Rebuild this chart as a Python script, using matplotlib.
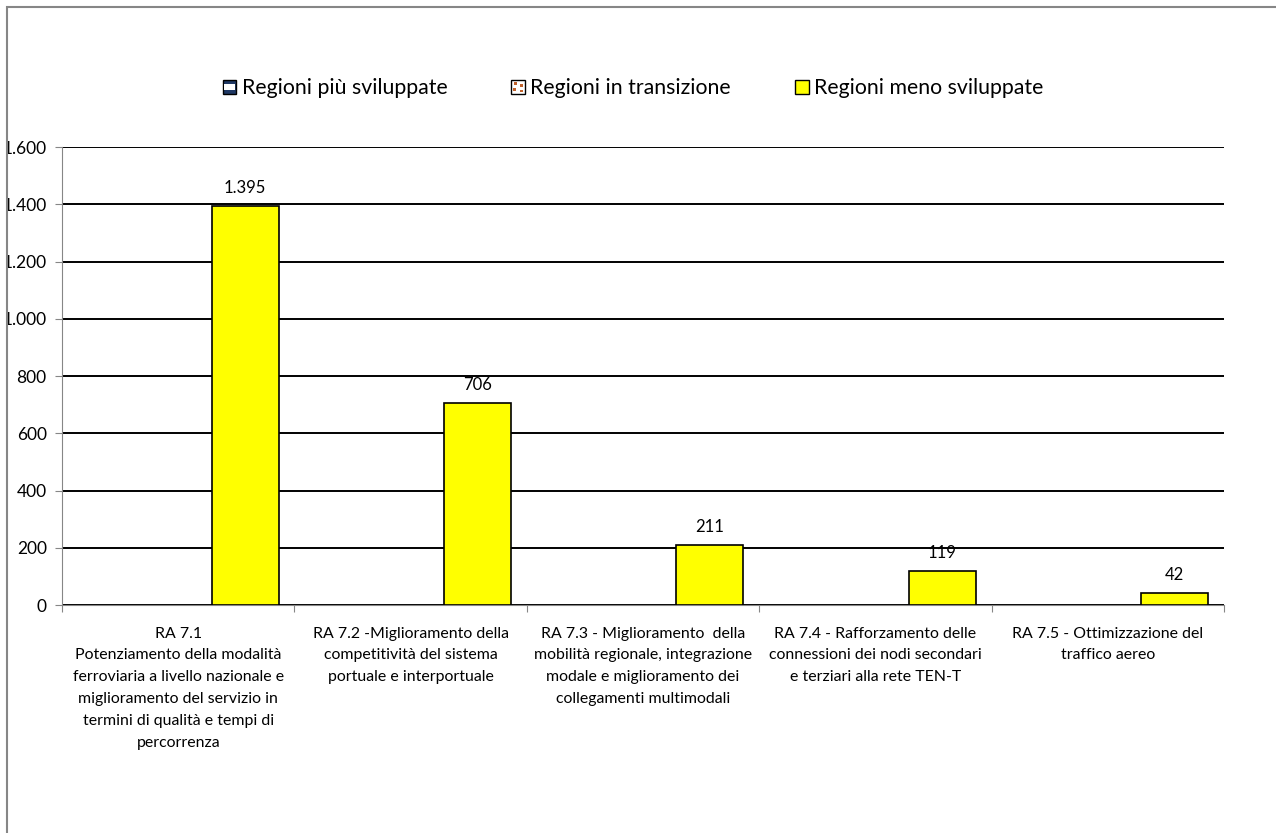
import matplotlib.pyplot as plt
import numpy as np
from matplotlib.patches import Patch, Rectangle
from matplotlib.ticker import FuncFormatter

plt.rcParams['font.family'] = ['Lato', 'DejaVu Sans']

# Risultati attesi (RA) dell'Obiettivo Tematico 7, milioni di euro
categories = [
    "RA 7.1\nPotenziamento della modalità\nferroviaria a livello nazionale e\n"
    "miglioramento del servizio in\ntermini di qualità e tempi di\npercorrenza",
    "RA 7.2 -Miglioramento della\ncompetitività del sistema\nportuale e interportuale",
    "RA 7.3 - Miglioramento  della\nmobilità regionale, integrazione\n"
    "modale e miglioramento dei\ncollegamenti multimodali",
    "RA 7.4 - Rafforzamento delle\nconnessioni dei nodi secondari\ne terziari alla rete TEN-T",
    "RA 7.5 - Ottimizzazione del\ntraffico aereo",
]
series_names = ["Regioni più sviluppate", "Regioni in transizione", "Regioni meno sviluppate"]
piu_sviluppate = [0, 0, 0, 0, 0]
in_transizione = [0, 0, 0, 0, 0]
meno_sviluppate = [1395, 706, 211, 119, 42]
y_ticks = [0, 200, 400, 600, 800, 1000, 1200, 1400, 1600]


def it_thousands(v, pos=None):
    return f"{int(v):,}".replace(",", ".")


fig = plt.figure(figsize=(12.76, 8.33), dpi=100)
ax = fig.add_axes([0.0486, 0.2737, 0.9106, 0.5498])

x = np.arange(len(categories))
w = 0.288
ax.bar(x - w, piu_sviluppate, w, color="#1F3864", linewidth=0)
ax.bar(x, in_transizione, w, color="white", linewidth=0)
bars = ax.bar(x + w, meno_sviluppate, w, color="#FFFF00", edgecolor="black",
              linewidth=1.2, zorder=3)
for b, v in zip(bars, meno_sviluppate):
    ax.annotate(it_thousands(v), (b.get_x() + b.get_width() / 2, v),
                xytext=(0, 7), textcoords="offset points",
                ha="center", va="bottom", fontsize=12, zorder=4)

ax.set_xlim(-0.5, len(categories) - 0.5)
ax.set_ylim(0, 1600)
ax.set_yticks(y_ticks)
ax.yaxis.set_major_formatter(FuncFormatter(it_thousands))
ax.yaxis.grid(True, color="black", linewidth=1.4)
ax.set_axisbelow(True)

ax.set_xticks(np.arange(len(categories) + 1) - 0.5)
ax.set_xticklabels([])
for i, lab in enumerate(categories):
    ax.text(i, -0.047, lab, transform=ax.get_xaxis_transform(),
            ha="center", va="top", fontsize=11.4, linespacing=1.72)

for s in ["top", "right"]:
    ax.spines[s].set_visible(False)
for s in ["left", "bottom"]:
    ax.spines[s].set_color("#868686")
ax.tick_params(axis="both", colors="#868686", length=5, labelcolor="black")
ax.tick_params(axis="y", labelsize=12.5, pad=6)


# legend swatches drawn by hand
class SwatchHandler:
    def __init__(self, kind):
        self.kind = kind

    def legend_artist(self, legend, orig_handle, fontsize, handlebox):
        x0, y0 = -handlebox.xdescent, -handlebox.ydescent
        wd, ht = handlebox.width, handlebox.height
        tr = handlebox.get_transform()
        fc = {"stripe": "#1F3864", "dots": "white", "plain": "#FFFF00"}[self.kind]
        r = Rectangle((x0, y0), wd, ht, facecolor=fc, edgecolor="black",
                      linewidth=1, transform=tr)
        handlebox.add_artist(r)
        if self.kind == "stripe":
            handlebox.add_artist(Rectangle((x0 + 1, y0 + ht * 0.3), wd - 2, ht * 0.4,
                                           facecolor="white", edgecolor="none",
                                           transform=tr))
        elif self.kind == "dots":
            for fx, fy in [(0.3, 0.75), (0.75, 0.62), (0.25, 0.3), (0.72, 0.2)]:
                handlebox.add_artist(Rectangle((x0 + wd * fx - 1, y0 + ht * fy - 1), 2, 2,
                                               facecolor="#C0602A", edgecolor="none",
                                               transform=tr))
        return r


keys = [Patch(), Patch(), Patch()]
fig.legend(keys, series_names, loc="center",
           bbox_to_anchor=(0.496, 0.894), ncol=3, frameon=False,
           fontsize=15.3, handlelength=0.65, handleheight=0.65,
           handletextpad=0.25, columnspacing=3.0,
           handler_map={keys[0]: SwatchHandler("stripe"),
                        keys[1]: SwatchHandler("dots"),
                        keys[2]: SwatchHandler("plain")})

# chart area border, clipping what falls left of it
fig.patches.append(Rectangle((0, 0), 7 / 1276, 1, transform=fig.transFigure,
                             facecolor="white", edgecolor="none", zorder=5))
fig.patches.append(Rectangle((7 / 1276, -0.1), 1.2, 1 - 7 / 833 + 0.1,
                             transform=fig.transFigure, facecolor="none",
                             edgecolor="#868686", linewidth=1.5, zorder=6))

fig.savefig("out.png", dpi=100)
